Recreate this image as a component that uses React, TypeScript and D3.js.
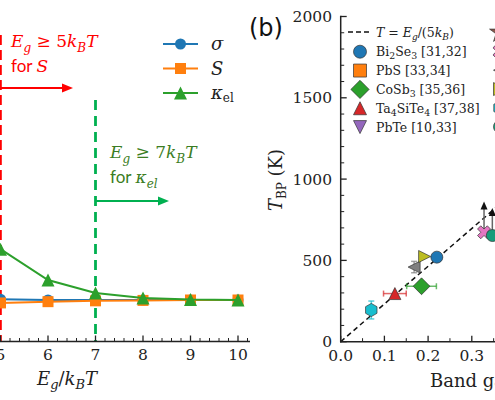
import React from "react";
import * as d3 from "d3";

// left panel: normalised quantity vs Eg/kBT
const ratioX = [5, 6, 7, 8, 9, 10];
const sigmaRatio = [1.02, 1.0, 1.0, 1.0, 1.0, 1.0];
const seebeckRatio = [0.93, 0.96, 0.98, 0.99, 1.0, 1.0];
const kappaRatio = [2.22, 1.48, 1.17, 1.05, 1.01, 1.0];

// right panel legend
const legendLabels = ["Bi_2Se_3 [31,32]", "PbS [33,34]", "CoSb_3 [35,36]", "Ta_4SiTe_4 [37,38]", "PbTe [10,33]"];
const legendColors = ["#1f77b4", "#ff7f0e", "#2ca02c", "#d62728", "#9467bd"];
const legendShapes = ["circle", "square", "diamond", "triangleUp", "triangleDown"];
const legend2Colors = ["#8c564b", "#e377c2", "#7f7f7f", "#bcbd22", "#17becf", "#179c7a"];
const legend2Shapes = ["star", "x", "triangleLeft", "triangleRight", "hexagon", "circle"];

// right panel points (visible part)
const pointShape = ["hexagon", "triangleUp", "diamond", "triangleLeft", "triangleRight", "circle", "x", "circle"];
const pointColor = ["#17becf", "#d62728", "#2ca02c", "#7f7f7f", "#bcbd22", "#1f77b4", "#e377c2", "#179c7a"];
const pointGap = [0.07, 0.124, 0.185, 0.168, 0.192, 0.22, 0.328, 0.347];
const pointT = [195, 296, 341, 459, 524, 520, 673, 653];
const pointGapErr = [0, 0.026, 0.034, 0, 0, 0, 0, 0];
const pointTErr = [55, 0, 0, 35, 0, 0, 0, 0];
const pointLowerBound = [0, 0, 0, 0, 0, 0, 190, 170];

const serif = "DejaVu Serif";

function markerPath(shape: string, r: number): string {
  switch (shape) {
    case "circle":
      return d3.symbol(d3.symbolCircle, Math.PI * r * r)() as string;
    case "square":
      return `M${-r},${-r}H${r}V${r}H${-r}Z`;
    case "diamond": {
      const d = r * 1.4;
      return `M0,${-d}L${d},0L0,${d}L${-d},0Z`;
    }
    case "triangleUp":
      return `M0,${-r}L${r},${r}L${-r},${r}Z`;
    case "triangleDown":
      return `M0,${r}L${r},${-r}L${-r},${-r}Z`;
    case "triangleLeft":
      return `M${-r},0L${r},${-r}L${r},${r}Z`;
    case "triangleRight":
      return `M${r},0L${-r},${-r}L${-r},${r}Z`;
    case "hexagon": {
      const pts = d3.range(6).map((k) => {
        const a = (-90 + 60 * k) * (Math.PI / 180);
        return [r * 1.1 * Math.cos(a), r * 1.1 * Math.sin(a)];
      });
      return "M" + pts.map((p) => p.join(",")).join("L") + "Z";
    }
    case "x": {
      const a = r * 0.38;
      const R = r * 1.15;
      const pts = [
        [-a, -R], [a, -R], [a, -a], [R, -a], [R, a], [a, a],
        [a, R], [-a, R], [-a, a], [-R, a], [-R, -a], [-a, -a],
      ];
      const rot = Math.PI / 4;
      return "M" + pts.map(([x, y]) => [x * Math.cos(rot) - y * Math.sin(rot), x * Math.sin(rot) + y * Math.cos(rot)].join(",")).join("L") + "Z";
    }
    case "star":
      return d3.symbol(d3.symbolStar, r * r * 3.2)() as string;
  }
  return "";
}

function SubText({ label }: { label: string }) {
  const parts = label.split(/(_\d)/).filter((p) => p !== "");
  return (
    <>
      {parts.map((p, i) =>
        p.startsWith("_") ? (
          <tspan key={i} dy={3} fontSize="0.75em">{p.slice(1)}</tspan>
        ) : (
          <tspan key={i} dy={i > 0 && parts[i - 1].startsWith("_") ? -3 : 0}>{p}</tspan>
        )
      )}
    </>
  );
}

export default function App() {
  const width = 495;
  const height = 400;

  // ---- left panel ----
  const xL = d3.scaleLinear().domain([5, 10]).range([0.5, 238]);
  const yL = d3.scaleLinear().domain([0, 1]).range([341.7, 300]);
  const axisYL = 341.5;
  const leftMinor = d3.range(5, 10.3, 0.2).filter((v) => Math.abs(v - Math.round(v)) > 0.01);

  const lineL = d3.line<number>().x((_, i) => xL(ratioX[i])).y((d) => yL(d));
  const seriesL = [
    { vals: sigmaRatio, color: "#1f77b4", shape: "circle", r: 5.5 },
    { vals: seebeckRatio, color: "#ff7f0e", shape: "square", r: 5.5 },
    { vals: kappaRatio, color: "#2ca02c", shape: "triangleUp", r: 6.5 },
  ];

  // ---- right panel ----
  const xR = d3.scaleLinear().domain([0, 0.35]).range([340.7, 340.7 + 0.35 * 437]);
  const yR = d3.scaleLinear().domain([0, 2000]).range([341.7, 16.5]);
  const gapLine = d3.line<number>().x((d) => xR(d)).y((d) => yR(d / (5 * 8.617e-5)));

  const red = "#ff0000";
  const green = "#00b050";
  const darkGreen = "#3b7d23";

  return (
    <svg width={width} height={height} style={{ position: "absolute", left: 0, top: 0, background: "#fff" }}>
      <defs>
        <clipPath id="clipR">
          <rect x={341} y={0} width={160} height={342} />
        </clipPath>
      </defs>

      {/* ===== left panel ===== */}
      {/* threshold lines */}
      <line x1={xL(5)} x2={xL(5)} y1={35} y2={axisYL} stroke={red} strokeWidth={2.6} strokeDasharray="10,5" />
      <line x1={xL(7)} x2={xL(7)} y1={100} y2={axisYL} stroke={green} strokeWidth={2.8} strokeDasharray="10,6" />
      <line x1={0} x2={64} y1={88} y2={88} stroke={red} strokeWidth={2.2} />
      <path d="M62,83.5L73,88L62,92.5Z" fill={red} />
      <line x1={xL(7)} x2={160} y1={201} y2={201} stroke={green} strokeWidth={2.2} />
      <path d="M158,196.5L169,201L158,205.5Z" fill={green} />

      {/* annotations */}
      <text x={11} y={47} fill={red} fontSize={17}>
        <tspan fontFamily={serif} fontStyle="italic">E</tspan>
        <tspan fontFamily={serif} fontStyle="italic" fontSize={12} dy={5}>g</tspan>
        <tspan fontFamily={serif} dy={-5}> ≥ 5</tspan>
        <tspan fontFamily={serif} fontStyle="italic">k</tspan>
        <tspan fontFamily={serif} fontStyle="italic" fontSize={12} dy={5}>B</tspan>
        <tspan fontFamily={serif} fontStyle="italic" dy={-5}>T</tspan>
      </text>
      <text x={11} y={72} fill={red} fontSize={17}>
        <tspan fontFamily="Lato">for </tspan>
        <tspan fontFamily={serif} fontStyle="italic">S</tspan>
      </text>
      <text x={110} y={158} fill={darkGreen} fontSize={17}>
        <tspan fontFamily={serif} fontStyle="italic">E</tspan>
        <tspan fontFamily={serif} fontStyle="italic" fontSize={12} dy={5}>g</tspan>
        <tspan fontFamily={serif} dy={-5}> ≥ 7</tspan>
        <tspan fontFamily={serif} fontStyle="italic">k</tspan>
        <tspan fontFamily={serif} fontStyle="italic" fontSize={12} dy={5}>B</tspan>
        <tspan fontFamily={serif} fontStyle="italic" dy={-5}>T</tspan>
      </text>
      <text x={110} y={183} fill={darkGreen} fontSize={17}>
        <tspan fontFamily="Lato">for </tspan>
        <tspan fontFamily={serif} fontStyle="italic">κ</tspan>
        <tspan fontFamily={serif} fontStyle="italic" fontSize={12} dy={5}>el</tspan>
      </text>

      {/* series */}
      {seriesL.map((s, si) => (
        <g key={si}>
          <path d={lineL(s.vals) as string} fill="none" stroke={s.color} strokeWidth={2} />
          {s.vals.map((v, i) => (
            <path key={i} d={markerPath(s.shape, s.r)} transform={`translate(${xL(ratioX[i])},${yL(v)})`} fill={s.color} />
          ))}
        </g>
      ))}

      {/* left legend */}
      {seriesL.map((s, si) => (
        <g key={si} transform={`translate(0,${44 + si * 24.5})`}>
          <line x1={163} x2={198} y1={0} y2={0} stroke={s.color} strokeWidth={2} />
          <path d={markerPath(s.shape, s.r)} transform="translate(180.5,0)" fill={s.color} />
        </g>
      ))}
      <text x={211} y={50} fontFamily={serif} fontStyle="italic" fontSize={18} fill="#222">σ</text>
      <text x={211} y={74.5} fontFamily={serif} fontStyle="italic" fontSize={18} fill="#222">S</text>
      <text x={211} y={99} fontFamily={serif} fontSize={18} fill="#222">
        <tspan fontStyle="italic">κ</tspan>
        <tspan fontSize={12} dy={3}>el</tspan>
      </text>

      {/* left x axis */}
      <line x1={0} x2={250} y1={axisYL} y2={axisYL} stroke="#222" strokeWidth={1.5} />
      {ratioX.map((v) => (
        <g key={v}>
          <line x1={xL(v)} x2={xL(v)} y1={axisYL} y2={axisYL - 6} stroke="#222" strokeWidth={1.3} />
          <text x={xL(v)} y={360} textAnchor="middle" fontFamily={serif} fontSize={15.5} fill="#222">{v}</text>
        </g>
      ))}
      {leftMinor.map((v, i) => (
        <line key={i} x1={xL(v)} x2={xL(v)} y1={axisYL} y2={axisYL - 3.5} stroke="#222" strokeWidth={1} />
      ))}
      <text x={37} y={385} fontFamily={serif} fontSize={18} fill="#222">
        <tspan fontStyle="italic">E</tspan>
        <tspan fontStyle="italic" fontSize={13} dy={4}>g</tspan>
        <tspan dy={-4}>/</tspan>
        <tspan fontStyle="italic">k</tspan>
        <tspan fontStyle="italic" fontSize={13} dy={4}>B</tspan>
        <tspan fontStyle="italic" dy={-4}>T</tspan>
      </text>

      {/* ===== right panel ===== */}
      <text x={249} y={36} fontFamily="DejaVu Sans" fontSize={24} fill="#111">(b)</text>

      <g clipPath="url(#clipR)">
        <path d={gapLine([0, 0.4]) as string} fill="none" stroke="#111" strokeWidth={1.5} strokeDasharray="5,3.5" />
        {pointGap.map((g, i) => (
          <g key={i}>
            {pointLowerBound[i] > 0 && (
              <g>
                <line x1={xR(g)} x2={xR(g)} y1={yR(pointT[i])} y2={yR(pointT[i] + pointLowerBound[i]) + 6} stroke="#666" strokeWidth={1.5} />
                <path d={`M${xR(g) - 3.5},${yR(pointT[i] + pointLowerBound[i]) + 8}L${xR(g)},${yR(pointT[i] + pointLowerBound[i])}L${xR(g) + 3.5},${yR(pointT[i] + pointLowerBound[i]) + 8}Z`} fill="#111" />
              </g>
            )}
            {pointGapErr[i] > 0 && (
              <g stroke={pointColor[i]} strokeOpacity={0.7} strokeWidth={1.5}>
                <line x1={xR(g - pointGapErr[i])} x2={xR(g + pointGapErr[i])} y1={yR(pointT[i])} y2={yR(pointT[i])} />
                <line x1={xR(g - pointGapErr[i])} x2={xR(g - pointGapErr[i])} y1={yR(pointT[i]) - 3} y2={yR(pointT[i]) + 3} />
                <line x1={xR(g + pointGapErr[i])} x2={xR(g + pointGapErr[i])} y1={yR(pointT[i]) - 3} y2={yR(pointT[i]) + 3} />
              </g>
            )}
            {pointTErr[i] > 0 && (
              <g stroke={pointColor[i]} strokeOpacity={0.7} strokeWidth={1.5}>
                <line x1={xR(g)} x2={xR(g)} y1={yR(pointT[i] - pointTErr[i])} y2={yR(pointT[i] + pointTErr[i])} />
                <line x1={xR(g) - 3} x2={xR(g) + 3} y1={yR(pointT[i] - pointTErr[i])} y2={yR(pointT[i] - pointTErr[i])} />
                <line x1={xR(g) - 3} x2={xR(g) + 3} y1={yR(pointT[i] + pointTErr[i])} y2={yR(pointT[i] + pointTErr[i])} />
              </g>
            )}
            <path d={markerPath(pointShape[i], 6)} transform={`translate(${xR(g)},${yR(pointT[i])})`} fill={pointColor[i]} stroke="#333" strokeWidth={0.7} />
          </g>
        ))}
      </g>

      {/* right legend */}
      <line x1={348} x2={371} y1={32} y2={32} stroke="#111" strokeWidth={1.5} strokeDasharray="5,3" />
      <text x={376} y={36.5} fontFamily={serif} fontSize={12.5} fill="#222">
        <tspan fontStyle="italic">T</tspan>
        <tspan> = </tspan>
        <tspan fontStyle="italic">E</tspan>
        <tspan fontStyle="italic" fontSize={9} dy={3}>g</tspan>
        <tspan dy={-3}>/(5</tspan>
        <tspan fontStyle="italic">k</tspan>
        <tspan fontStyle="italic" fontSize={9} dy={3}>B</tspan>
        <tspan dy={-3}>)</tspan>
      </text>
      {legendLabels.map((lab, i) => (
        <g key={i}>
          <path d={markerPath(legendShapes[i], 6.5)} transform={`translate(360,${51.7 + i * 18.85})`} fill={legendColors[i]} stroke="#333" strokeWidth={0.7} />
          <text x={376} y={56.4 + i * 18.85} fontFamily={serif} fontSize={12.5} fill="#222">
            <SubText label={lab} />
          </text>
        </g>
      ))}
      {legend2Shapes.map((s, i) => (
        <path key={i} d={markerPath(s, 6.5)} transform={`translate(500,${32.5 + i * 18.85})`} fill={legend2Colors[i]} stroke="#333" strokeWidth={0.7} />
      ))}

      {/* right axes */}
      <line x1={340.7} x2={340.7} y1={15.8} y2={342.4} stroke="#222" strokeWidth={1.5} />
      <line x1={340} x2={495} y1={341.7} y2={341.7} stroke="#222" strokeWidth={1.5} />
      {yR.ticks(4).map((v) => (
        <g key={v}>
          <line x1={340.7} x2={346.7} y1={yR(v)} y2={yR(v)} stroke="#222" strokeWidth={1.3} />
          <text x={332} y={yR(v) + 5.5} textAnchor="end" fontFamily={serif} fontSize={15.5} fill="#222">{v}</text>
        </g>
      ))}
      {d3.range(100, 2000, 100).filter((v) => v % 500 !== 0).map((v) => (
        <line key={v} x1={340.7} x2={344.2} y1={yR(v)} y2={yR(v)} stroke="#222" strokeWidth={1} />
      ))}
      {[0, 0.1, 0.2, 0.3].map((v) => (
        <g key={v}>
          <line x1={xR(v)} x2={xR(v)} y1={341.7} y2={335.7} stroke="#222" strokeWidth={1.3} />
          <text x={xR(v)} y={361} textAnchor="middle" fontFamily={serif} fontSize={15.5} fill="#222">{v.toFixed(1)}</text>
        </g>
      ))}
      {[0.05, 0.15, 0.25, 0.35].map((v) => (
        <line key={v} x1={xR(v)} x2={xR(v)} y1={341.7} y2={338.2} stroke="#222" strokeWidth={1} />
      ))}
      <text transform="translate(282,180) rotate(-90)" textAnchor="middle" fontFamily={serif} fontSize={18} fill="#222">
        <tspan fontStyle="italic">T</tspan>
        <tspan fontSize={12} dy={4}>BP</tspan>
        <tspan dy={-4}> (K)</tspan>
      </text>
      <text x={430} y={387} fontFamily={serif} fontSize={18} fill="#222">Band gap (eV)</text>
    </svg>
  );
}
